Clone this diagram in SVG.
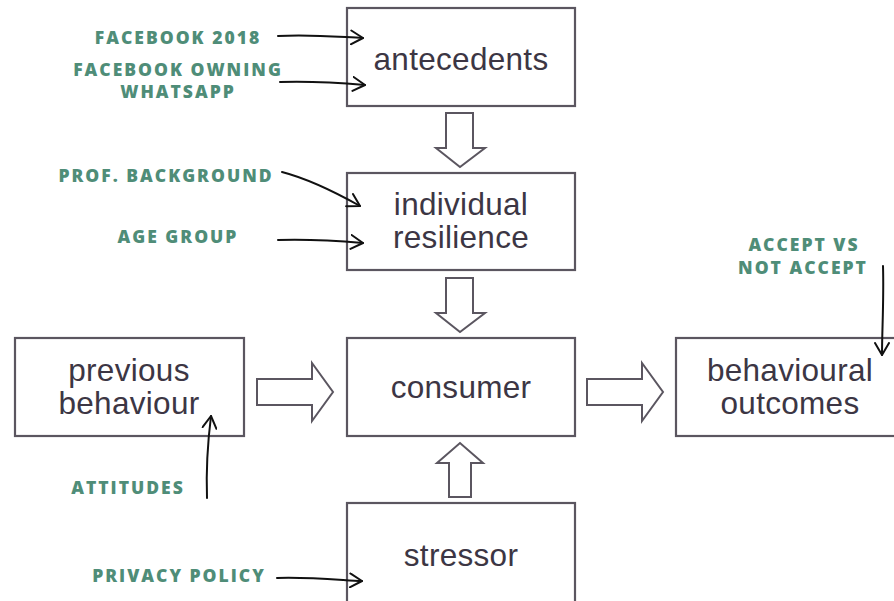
<svg xmlns="http://www.w3.org/2000/svg" width="894" height="601" viewBox="0 0 894 601">
  <defs>
    <style>
      .box { fill: #ffffff; stroke: #5b5660; stroke-width: 2.2; }
      .label { font-family: "Liberation Sans", Arial, sans-serif; font-size: 31.5px; letter-spacing: 0.3px; fill: #3c3644; text-anchor: middle; }
      .tag { font-family: "Open Sans", "DejaVu Sans", sans-serif; font-weight: 800; font-size: 17.5px; fill: #4f8d78; letter-spacing: 2px; text-anchor: middle; }
      .block { fill: #ffffff; stroke: #5b5660; stroke-width: 2; stroke-linejoin: miter; }
      .thin { fill: none; stroke: #111111; stroke-width: 2; stroke-linecap: round; marker-end: url(#vhead); }
    </style>
    <marker id="vhead" viewBox="0 0 14 16" refX="13" refY="8" markerWidth="14" markerHeight="16" markerUnits="userSpaceOnUse" orient="auto">
      <path d="M1,1 L13,8 L1,15" fill="none" stroke="#111111" stroke-width="2" stroke-linecap="round" stroke-linejoin="round"/>
    </marker>
  </defs>

  <rect width="894" height="601" fill="#ffffff"/>

  <!-- nodes -->
  <g id="antecedents">
    <rect class="box" x="347" y="8" width="228" height="98"/>
    <text class="label" x="461" y="70">antecedents</text>
  </g>
  <g id="individual-resilience">
    <rect class="box" x="347" y="173" width="228" height="97"/>
    <text class="label" x="461" y="215">individual</text>
    <text class="label" x="461" y="248">resilience</text>
  </g>
  <g id="previous-behaviour">
    <rect class="box" x="15" y="338" width="229" height="98"/>
    <text class="label" x="129" y="381">previous</text>
    <text class="label" x="129" y="414">behaviour</text>
  </g>
  <g id="consumer">
    <rect class="box" x="347" y="338" width="228" height="98"/>
    <text class="label" x="461" y="398">consumer</text>
  </g>
  <g id="behavioural-outcomes">
    <rect class="box" x="676" y="338" width="230" height="98"/>
    <text class="label" x="790" y="381">behavioural</text>
    <text class="label" x="790" y="414">outcomes</text>
  </g>
  <g id="stressor">
    <rect class="box" x="347" y="503" width="228" height="110"/>
    <text class="label" x="461" y="566">stressor</text>
  </g>

  <!-- factor tags -->
  <g id="tags">
    <text class="tag" x="178" y="44">FACEBOOK 2018</text>
    <text class="tag" x="178" y="76">FACEBOOK OWNING</text>
    <text class="tag" x="178" y="98">WHATSAPP</text>
    <text class="tag" x="166" y="182">PROF. BACKGROUND</text>
    <text class="tag" x="178" y="243">AGE GROUP</text>
    <text class="tag" x="804" y="251">ACCEPT VS</text>
    <text class="tag" x="803" y="274">NOT ACCEPT</text>
    <text class="tag" x="128" y="494">ATTITUDES</text>
    <text class="tag" x="179" y="582">PRIVACY POLICY</text>
  </g>

  <!-- connectors -->
  <g id="connectors">
    <!-- hollow block arrows between stages -->
    <path class="block" d="M446,113 H473 V148 H485 L460,167 L436,148 H446 Z"/>
    <path class="block" d="M446,278 H473 V313 H485 L460,332 L436,313 H446 Z"/>
    <path class="block" d="M257,379 H312 V363 L333,392 L312,421 V405 H257 Z"/>
    <path class="block" d="M587,379 H642 V363 L663,392 L642,421 V405 H587 Z"/>
    <path class="block" d="M449,497 H471 V463 H483 L460,443 L437,463 H449 Z"/>

    <!-- hand-drawn factor arrows -->
    <path class="thin" d="M278,36 C310,34 340,37 363,38"/>
    <path class="thin" d="M280,82 C312,81 342,83 365,85"/>
    <path class="thin" d="M282,172 C305,178 335,192 360,206"/>
    <path class="thin" d="M278,240 C310,239 340,241 363,243"/>
    <path class="thin" d="M207,498 C206,470 208,440 211,416"/>
    <path class="thin" d="M883,266 C884,300 882,330 882,355"/>
    <path class="thin" d="M277,578 C310,577 340,580 362,581"/>
  </g>
</svg>
